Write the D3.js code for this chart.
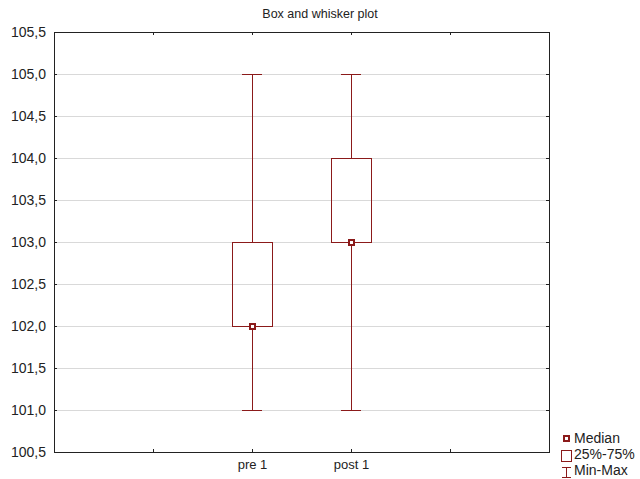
<!DOCTYPE html>
<html>
<head>
<meta charset="utf-8">
<script src="https://cdn.jsdelivr.net/npm/d3@7"></script>
<style>
  body { margin: 0; background: #fff; }
  text { font-family: "Liberation Sans", Arial, sans-serif; fill: #222; }
  line, rect, path { shape-rendering: crispEdges; }
</style>
</head>
<body>
<div id="chart"></div>
<script>
// data
var categories = ["pre 1", "post 1"];
var mins    = [101, 101];
var q1s     = [102, 103];
var medians = [102, 103];
var q3s     = [103, 104];
var maxs    = [105, 105];
var yTicks  = [100.5, 101, 101.5, 102, 102.5, 103, 103.5, 104, 104.5, 105, 105.5];
var legendLabels = ["Median", "25%-75%", "Min-Max"];

var fullwidth = 640, fullheight = 479;
var margin = {top: 32, right: 91, bottom: 27, left: 54};
var width = fullwidth - margin.left - margin.right;
var height = fullheight - margin.top - margin.bottom;
var red = "#8b1a1a";

var svg = d3.select("#chart").append("svg")
    .attr("width", fullwidth)
    .attr("height", fullheight);

var g = svg.append("g")
    .attr("transform", "translate(" + margin.left + "," + margin.top + ")");

// slots: one empty either side of the two groups
var slots = ["_l"].concat(categories).concat(["_r"]);
var xScale = d3.scalePoint().domain(slots).range([0, width]).padding(1);
var yScale = d3.scaleLinear().domain([100.5, 105.5]).range([height, 0]);

var fmt = function(d) { return d3.format(".1f")(d).replace(".", ","); };

// grid
g.selectAll(".grid").data(yTicks.slice(1, -1)).enter().append("line")
    .attr("x1", 0).attr("x2", width)
    .attr("y1", function(d) { return yScale(d); })
    .attr("y2", function(d) { return yScale(d); })
    .attr("stroke", "#d9d9d9");

// axes, ticks pointing in
function styleAxis(sel) {
  sel.select(".domain").attr("stroke", "#222");
  sel.selectAll(".tick line").attr("stroke", "#222");
  sel.selectAll("text").style("font-size", "14px").attr("fill", "#222");
}
var xLab = function(d) { return d.charAt(0) === "_" ? "" : d; };

g.append("g").attr("transform", "translate(0," + height + ")")
    .call(d3.axisBottom(xScale).tickSize(-3).tickSizeOuter(0).tickPadding(8).tickFormat(xLab))
    .call(styleAxis)
    .selectAll("text").style("font-size", "13px");
g.append("g")
    .call(d3.axisTop(xScale).tickSize(-3).tickSizeOuter(0).tickFormat(""))
    .call(styleAxis);
g.append("g")
    .call(d3.axisLeft(yScale).tickValues(yTicks).tickSize(-3).tickSizeOuter(0).tickPadding(8).tickFormat(fmt))
    .call(styleAxis);
g.append("g").attr("transform", "translate(" + width + ",0)")
    .call(d3.axisRight(yScale).tickValues(yTicks).tickSize(-3).tickSizeOuter(0).tickFormat(""))
    .call(styleAxis);

// boxes
var boxes = g.selectAll(".box").data(categories).enter().append("g")
    .attr("transform", function(d) { return "translate(" + xScale(d) + ",0)"; });

boxes.append("line")
    .attr("y1", function(d, i) { return yScale(maxs[i]); })
    .attr("y2", function(d, i) { return yScale(q3s[i]); })
    .attr("stroke", red);
boxes.append("line")
    .attr("y1", function(d, i) { return yScale(q1s[i]); })
    .attr("y2", function(d, i) { return yScale(mins[i]); })
    .attr("stroke", red);
boxes.append("line")
    .attr("x1", -10).attr("x2", 10)
    .attr("y1", function(d, i) { return yScale(maxs[i]); })
    .attr("y2", function(d, i) { return yScale(maxs[i]); })
    .attr("stroke", red);
boxes.append("line")
    .attr("x1", -10).attr("x2", 10)
    .attr("y1", function(d, i) { return yScale(mins[i]); })
    .attr("y2", function(d, i) { return yScale(mins[i]); })
    .attr("stroke", red);
boxes.append("rect")
    .attr("x", -20).attr("width", 40)
    .attr("y", function(d, i) { return yScale(q3s[i]); })
    .attr("height", function(d, i) { return yScale(q1s[i]) - yScale(q3s[i]); })
    .attr("fill", "none").attr("stroke", red);
boxes.append("rect")
    .attr("x", -2.5).attr("width", 5)
    .attr("y", function(d, i) { return yScale(medians[i]) - 2.5; })
    .attr("height", 5)
    .attr("fill", "#fff").attr("stroke", red).attr("stroke-width", 2);

// title
svg.append("text")
    .attr("x", 320).attr("y", 18)
    .attr("text-anchor", "middle")
    .style("font-size", "12.5px")
    .text("Box and whisker plot");

// legend
var leg = svg.append("g").attr("transform", "translate(560,438)");
leg.append("rect").attr("x", 3.5).attr("y", -2.5).attr("width", 5).attr("height", 5)
    .attr("fill", "#fff").attr("stroke", red).attr("stroke-width", 2);
leg.append("rect").attr("x", 1.5).attr("y", 12.5).attr("width", 10).attr("height", 11)
    .attr("fill", "none").attr("stroke", red);
leg.append("line").attr("x1", 6.5).attr("x2", 6.5).attr("y1", 29).attr("y2", 40).attr("stroke", red);
leg.append("line").attr("x1", 2).attr("x2", 11).attr("y1", 29.5).attr("y2", 29.5).attr("stroke", red);
leg.append("line").attr("x1", 2).attr("x2", 11).attr("y1", 39.5).attr("y2", 39.5).attr("stroke", red);
leg.selectAll(".lt").data(legendLabels).enter().append("text")
    .attr("x", 14)
    .attr("y", function(d, i) { return i * 16 + 5; })
    .style("font-size", "14px")
    .text(function(d) { return d; });
</script>
</body>
</html>
